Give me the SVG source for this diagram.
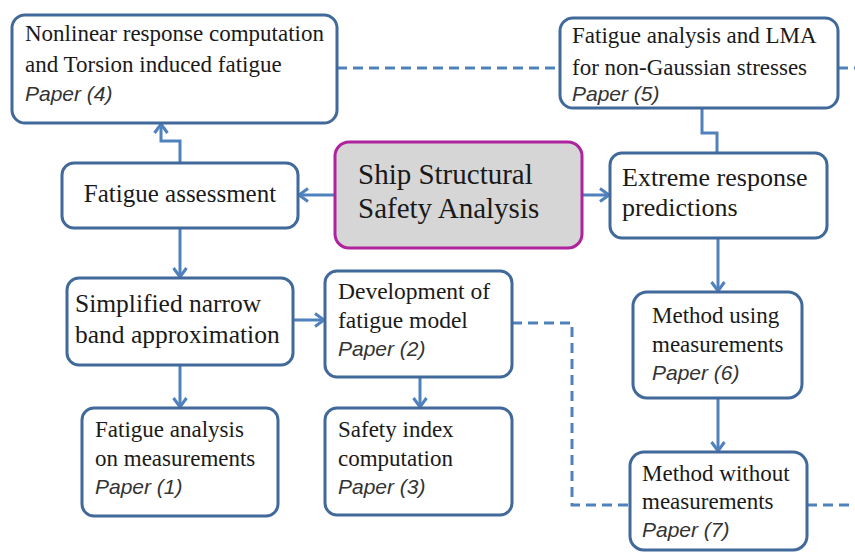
<svg xmlns="http://www.w3.org/2000/svg" width="855" height="553" viewBox="0 0 855 553">
<style>
.box{fill:#fff;stroke:#41699a;stroke-width:3}
.main{fill:#d6d6d6;stroke:#b0239e;stroke-width:3}
.t{font-family:"Liberation Serif","Times New Roman",serif;fill:#1a1a1a}
.p{font-family:"Liberation Sans",Arial,sans-serif;font-style:italic;font-size:21px;fill:#333}
.c{fill:none;stroke:#4f81bd;stroke-width:3}
.d{fill:none;stroke:#4f81bd;stroke-width:3;stroke-dasharray:10 6}
</style>
<defs>
<marker id="ah" markerUnits="userSpaceOnUse" markerWidth="16" markerHeight="16" refX="12" refY="8" orient="auto">
<path d="M3,1.5 L12,8 L3,14.5" fill="none" stroke="#4f81bd" stroke-width="3"/>
</marker>
</defs>
<rect width="855" height="553" fill="#fff"/>
<g id="connectors">
<path class="d" d="M337,68 H560"/>
<path class="d" d="M838,68 H855"/>
<path class="c" d="M702,108 V133 H717 V153"/>
<path class="c" d="M335,195 H299" marker-end="url(#ah)"/>
<path class="c" d="M582,195 H609" marker-end="url(#ah)"/>
<path class="c" d="M180,163 V141 H161 V124" marker-end="url(#ah)"/>
<path class="c" d="M180,228 V277" marker-end="url(#ah)"/>
<path class="c" d="M293,320 H324" marker-end="url(#ah)"/>
<path class="c" d="M180,365 V407" marker-end="url(#ah)"/>
<path class="c" d="M420,377 V407" marker-end="url(#ah)"/>
<path class="c" d="M718,238 V291" marker-end="url(#ah)"/>
<path class="c" d="M718,398 V451" marker-end="url(#ah)"/>
<path class="d" d="M512,323 H572 V505 H630"/>
<path class="d" d="M807,505 H855"/>
</g>
<g id="n4">
<rect class="box" x="12" y="15" width="325" height="108" rx="13"/>
<text class="t" font-size="23" x="25" y="41">Nonlinear response computation</text>
<text class="t" font-size="23" x="25" y="72">and Torsion induced fatigue</text>
<text class="p" x="25" y="101">Paper (4)</text>
</g>
<g id="n5">
<rect class="box" x="560" y="18" width="278" height="90" rx="13"/>
<text class="t" font-size="23" x="572" y="43">Fatigue analysis and LMA</text>
<text class="t" font-size="23" x="572" y="75">for non-Gaussian stresses</text>
<text class="p" x="572" y="101">Paper (5)</text>
</g>
<g id="center">
<rect class="main" x="335" y="142" width="247" height="106" rx="14"/>
<text class="t" font-size="29" x="358" y="184">Ship Structural</text>
<text class="t" font-size="29" x="358" y="218">Safety Analysis</text>
</g>
<g id="fatigue">
<rect class="box" x="62" y="163" width="236" height="65" rx="12"/>
<text class="t" font-size="25" x="180" y="202" text-anchor="middle">Fatigue assessment</text>
</g>
<g id="extreme">
<rect class="box" x="610" y="153" width="217" height="85" rx="12"/>
<text class="t" font-size="26" x="622" y="186">Extreme response</text>
<text class="t" font-size="26" x="622" y="216">predictions</text>
</g>
<g id="simplified">
<rect class="box" x="67" y="278" width="226" height="87" rx="12"/>
<text class="t" font-size="25.5" x="75" y="312">Simplified narrow</text>
<text class="t" font-size="25.5" x="75" y="343">band approximation</text>
</g>
<g id="n2">
<rect class="box" x="325" y="271" width="187" height="106" rx="12"/>
<text class="t" font-size="23.5" x="338" y="299">Development of</text>
<text class="t" font-size="23.5" x="338" y="328">fatigue model</text>
<text class="p" x="338" y="356">Paper (2)</text>
</g>
<g id="n1">
<rect class="box" x="82" y="408" width="196" height="108" rx="12"/>
<text class="t" font-size="23" x="95" y="437">Fatigue analysis</text>
<text class="t" font-size="23" x="95" y="466">on measurements</text>
<text class="p" x="95" y="494">Paper (1)</text>
</g>
<g id="n3">
<rect class="box" x="325" y="408" width="187" height="107" rx="12"/>
<text class="t" font-size="23" x="338" y="437">Safety index</text>
<text class="t" font-size="23" x="338" y="466">computation</text>
<text class="p" x="338" y="494">Paper (3)</text>
</g>
<g id="n6">
<rect class="box" x="633" y="292" width="169" height="106" rx="14"/>
<text class="t" font-size="23" x="652" y="323">Method using</text>
<text class="t" font-size="23" x="652" y="352">measurements</text>
<text class="p" x="652" y="380">Paper (6)</text>
</g>
<g id="n7">
<rect class="box" x="630" y="452" width="177" height="98" rx="14"/>
<text class="t" font-size="23" x="642" y="481">Method without</text>
<text class="t" font-size="23" x="642" y="509">measurements</text>
<text class="p" x="642" y="537">Paper (7)</text>
</g>
</svg>
